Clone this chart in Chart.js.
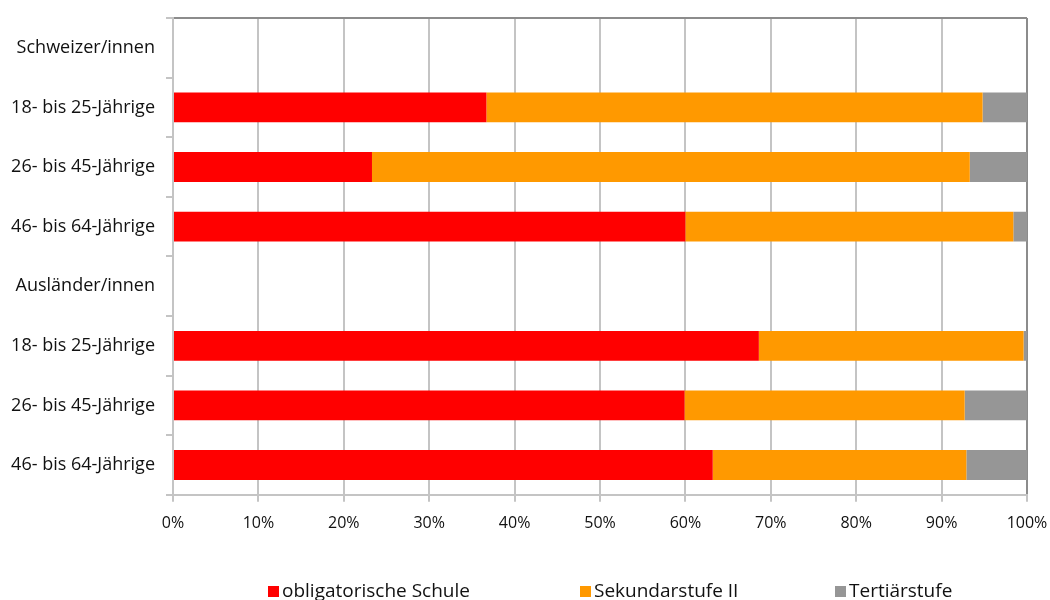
<!DOCTYPE html>
<html>
<head>
<meta charset="utf-8">
<script src="https://cdn.jsdelivr.net/npm/chart.js@4/dist/chart.umd.min.js"></script>
<style>
html,body{margin:0;padding:0;background:#fff;}
#wrap{width:1050px;height:600px;position:relative;}
</style>
</head>
<body>
<div id="wrap"><canvas id="c" width="1050" height="600"></canvas></div>
<script>
const categories = ["Schweizer/innen","18- bis 25-Jährige","26- bis 45-Jährige","46- bis 64-Jährige","Ausländer/innen","18- bis 25-Jährige","26- bis 45-Jährige","46- bis 64-Jährige"];
const obligatorisch = [null, 36.7, 23.3, 60.0, null, 68.6, 59.9, 63.2];
const sekundar      = [null, 58.1, 70.0, 38.4, null, 31.0, 32.8, 29.7];
const tertiaer      = [null,  5.2,  6.7,  1.6, null,  0.4,  7.3,  7.1];
const seriesNames = ["obligatorische Schule","Sekundarstufe II","Tertiärstufe"];
const seriesColors = ["#ff0000","#ff9900","#969696"];
const xTicks = [0,10,20,30,40,50,60,70,80,90,100];

const FONT = "'Open Sans', 'DejaVu Sans', sans-serif";

const legendPlugin = {
  id: 'customLegend',
  afterDraw(chart) {
    const ctx = chart.ctx;
    const xs = [268, 580, 835];
    const y = 592;
    ctx.save();
    ctx.font = "19px " + FONT;
    ctx.textBaseline = 'middle';
    ctx.textAlign = 'left';
    chart.data.datasets.forEach((ds, i) => {
      ctx.fillStyle = ds.backgroundColor;
      ctx.fillRect(xs[i], y - 6, 11, 11);
      ctx.fillStyle = '#111';
      ctx.fillText(ds.label, xs[i] + 14, y);
    });
    ctx.restore();
  }
};

new Chart(document.getElementById('c'), {
  type: 'bar',
  data: {
    labels: categories,
    datasets: [
      {label: seriesNames[0], data: obligatorisch, backgroundColor: seriesColors[0]},
      {label: seriesNames[1], data: sekundar, backgroundColor: seriesColors[1]},
      {label: seriesNames[2], data: tertiaer, backgroundColor: seriesColors[2]}
    ]
  },
  options: {
    indexAxis: 'y',
    responsive: false,
    animation: false,
    maintainAspectRatio: false,
    layout: {padding: {top: 18, right: 23, bottom: 55, left: 0}},
    datasets: {bar: {categoryPercentage: 1.0, barPercentage: 0.5}},
    plugins: {legend: {display: false}, tooltip: {enabled: false}},
    scales: {
      x: {
        stacked: true,
        min: 0, max: 100,
        afterBuildTicks: s => { s.ticks = xTicks.map(v => ({value: v})); },
        afterFit: s => { s.paddingLeft = 0; s.paddingRight = 0; },
        ticks: {
          callback: v => v + '%',
          color: '#111',
          font: {family: FONT, size: 16},
          padding: 12
        },
        grid: {
          color: c => (c.tick && c.tick.value === 100) ? '#8c8c8c' : '#c4c4c4',
          tickColor: '#c4c4c4',
          lineWidth: 2,
          tickLength: 7
        },
        border: {color: '#c4c4c4', width: 2}
      },
      y: {
        stacked: true,
        afterFit: s => { s.width = 173; s.paddingTop = 0; s.paddingBottom = 0; },
        ticks: {
          color: '#111',
          font: {family: FONT, size: 18},
          padding: 11
        },
        grid: {
          offset: true,
          color: c => c.index === 0 ? '#8c8c8c' : 'rgba(0,0,0,0)',
          tickColor: '#c4c4c4',
          lineWidth: 2,
          tickLength: 7
        },
        border: {color: '#c4c4c4', width: 2}
      }
    }
  },
  plugins: [legendPlugin]
});
</script>
</body>
</html>
